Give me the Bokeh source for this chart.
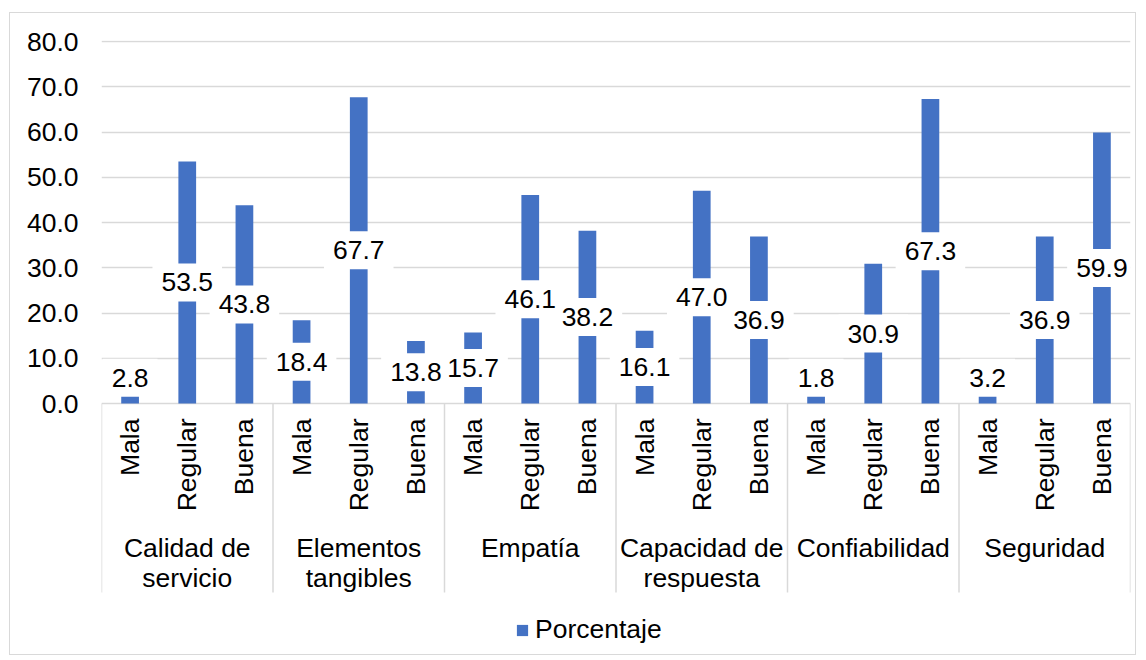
import math
from bokeh.plotting import figure
from bokeh.models import (FactorRange, Range1d, FixedTicker, NumeralTickFormatter,
                          Legend, LegendItem, ColumnDataSource)
from bokeh.core.properties import value
from bokeh.embed import file_html
from bokeh.resources import INLINE

# ---------------- data ----------------
groups = ["Calidad de servicio", "Elementos tangibles", "Empatía",
          "Capacidad de respuesta", "Confiabilidad", "Seguridad"]
group_labels = ["Calidad de\nservicio", "Elementos\ntangibles", "Empatía",
                "Capacidad de\nrespuesta", "Confiabilidad", "Seguridad"]
levels = ["Mala", "Regular", "Buena"]

calidad = [2.8, 53.5, 43.8]
elementos = [18.4, 67.7, 13.8]
empatia = [15.7, 46.1, 38.2]
capacidad = [16.1, 47.0, 36.9]
confiabilidad = [1.8, 30.9, 67.3]
seguridad = [3.2, 36.9, 59.9]

y_ticks = [0, 10, 20, 30, 40, 50, 60, 70, 80]
series_name = "Porcentaje"

# ---------------- layout constants ----------------
FONT = "Liberation Sans"
FS = "26.5px"
BAR_COLOR = "#4472C4"
GRID_COLOR = "#d9d9d9"

W, H = 1127, 643
MB_LEFT, MB_RIGHT, MB_TOP, MB_BOTTOM = 91, 7, 27, 0
frame_h = H - MB_TOP - MB_BOTTOM
ppu = 362 / 80.0            # pixels per data unit
zero_from_top = 363         # px from frame top to y = 0
y_end = zero_from_top / ppu
y_start = -(frame_h - zero_from_top) / ppu

all_series = [calidad, elementos, empatia, capacidad, confiabilidad, seguridad]
factors = [(g, l) for g in groups for l in levels]
values = [v for s in all_series for v in s]

label_floor = 5.7
src = ColumnDataSource(dict(
    x=factors,
    top=values,
    ly=[max(v / 2.0, label_floor) for v in values],
    lbl=["{:.1f}".format(v) for v in values],
    sub=[f[1] for f in factors],
))

p = figure(
    x_range=FactorRange(*factors, factor_padding=0, group_padding=0,
                        subgroup_padding=0, range_padding=0),
    y_range=Range1d(y_start, y_end),
    width=W, height=H,
    min_border_left=MB_LEFT, min_border_right=MB_RIGHT,
    min_border_top=MB_TOP, min_border_bottom=MB_BOTTOM,
    x_axis_location=None,
    output_backend="svg", toolbar_location=None,
    background_fill_color="white", border_fill_color="white",
)
p.outline_line_color = None
p.margin = (12, 0, 0, 9)
p.styles = {"border": "1px solid #d9d9d9"}

# y axis
p.yaxis.ticker = FixedTicker(ticks=y_ticks)
p.yaxis.formatter = NumeralTickFormatter(format="0.0")
p.yaxis.axis_line_color = None
p.yaxis.major_tick_line_color = None
p.yaxis.minor_tick_line_color = None
p.yaxis.major_tick_out = 0
p.yaxis.major_tick_in = 0
p.yaxis.major_label_standoff = 23
p.yaxis.major_label_text_font = FONT
p.yaxis.major_label_text_font_size = FS
p.yaxis.major_label_text_color = "black"

p.ygrid.ticker = FixedTicker(ticks=y_ticks)
p.ygrid.grid_line_color = GRID_COLOR
p.ygrid.grid_line_width = 1.5
p.xgrid.visible = False

# bars
bars = p.vbar(x="x", top="top", bottom=0, width=0.31, source=src,
              fill_color=BAR_COLOR, line_color=None)

# separators of category axis
sep_x = [(g, -1.5) for g in groups] + [(groups[-1], 1.5)]
sep_len = 189 / ppu
p.segment(x0=sep_x, y0=[0] * len(sep_x), x1=sep_x, y1=[-sep_len] * len(sep_x),
          line_color=GRID_COLOR, line_width=1.5)

# sub category labels (rotated)
p.text(x="x", y=0, text="sub", source=src, angle=math.pi / 2, y_offset=15,
       text_align="right", text_baseline="middle",
       text_font=value(FONT), text_font_size=FS, text_color="black")

# group labels
p.text(x=groups, y=[0] * len(groups), text=group_labels, y_offset=129,
       text_align="center", text_baseline="top", text_line_height=1.0,
       text_font=value(FONT), text_font_size=FS, text_color="black")

# data labels: white boxes first, then the texts on top
p.text(x="x", y="ly", text="lbl", source=src,
       text_align="center", text_baseline="middle",
       text_font=value(FONT), text_font_size=FS, text_alpha=0,
       background_fill_color="white",
       padding=dict(left=9, right=9, top=10, bottom=10))
p.text(x="x", y="ly", text="lbl", source=src,
       text_align="center", text_baseline="middle",
       text_font=value(FONT), text_font_size=FS, text_color="black")

legend = Legend(items=[LegendItem(label=series_name, renderers=[bars])],
                location=(414, 11), orientation="horizontal",
                glyph_width=14, glyph_height=14, label_height=14,
                label_standoff=6, padding=0, margin=0, spacing=0,
                label_text_font=FONT, label_text_font_size=FS,
                label_text_color="black",
                border_line_color=None, background_fill_alpha=0)
p.add_layout(legend)

open("out.html", "w").write(file_html(p, INLINE))
